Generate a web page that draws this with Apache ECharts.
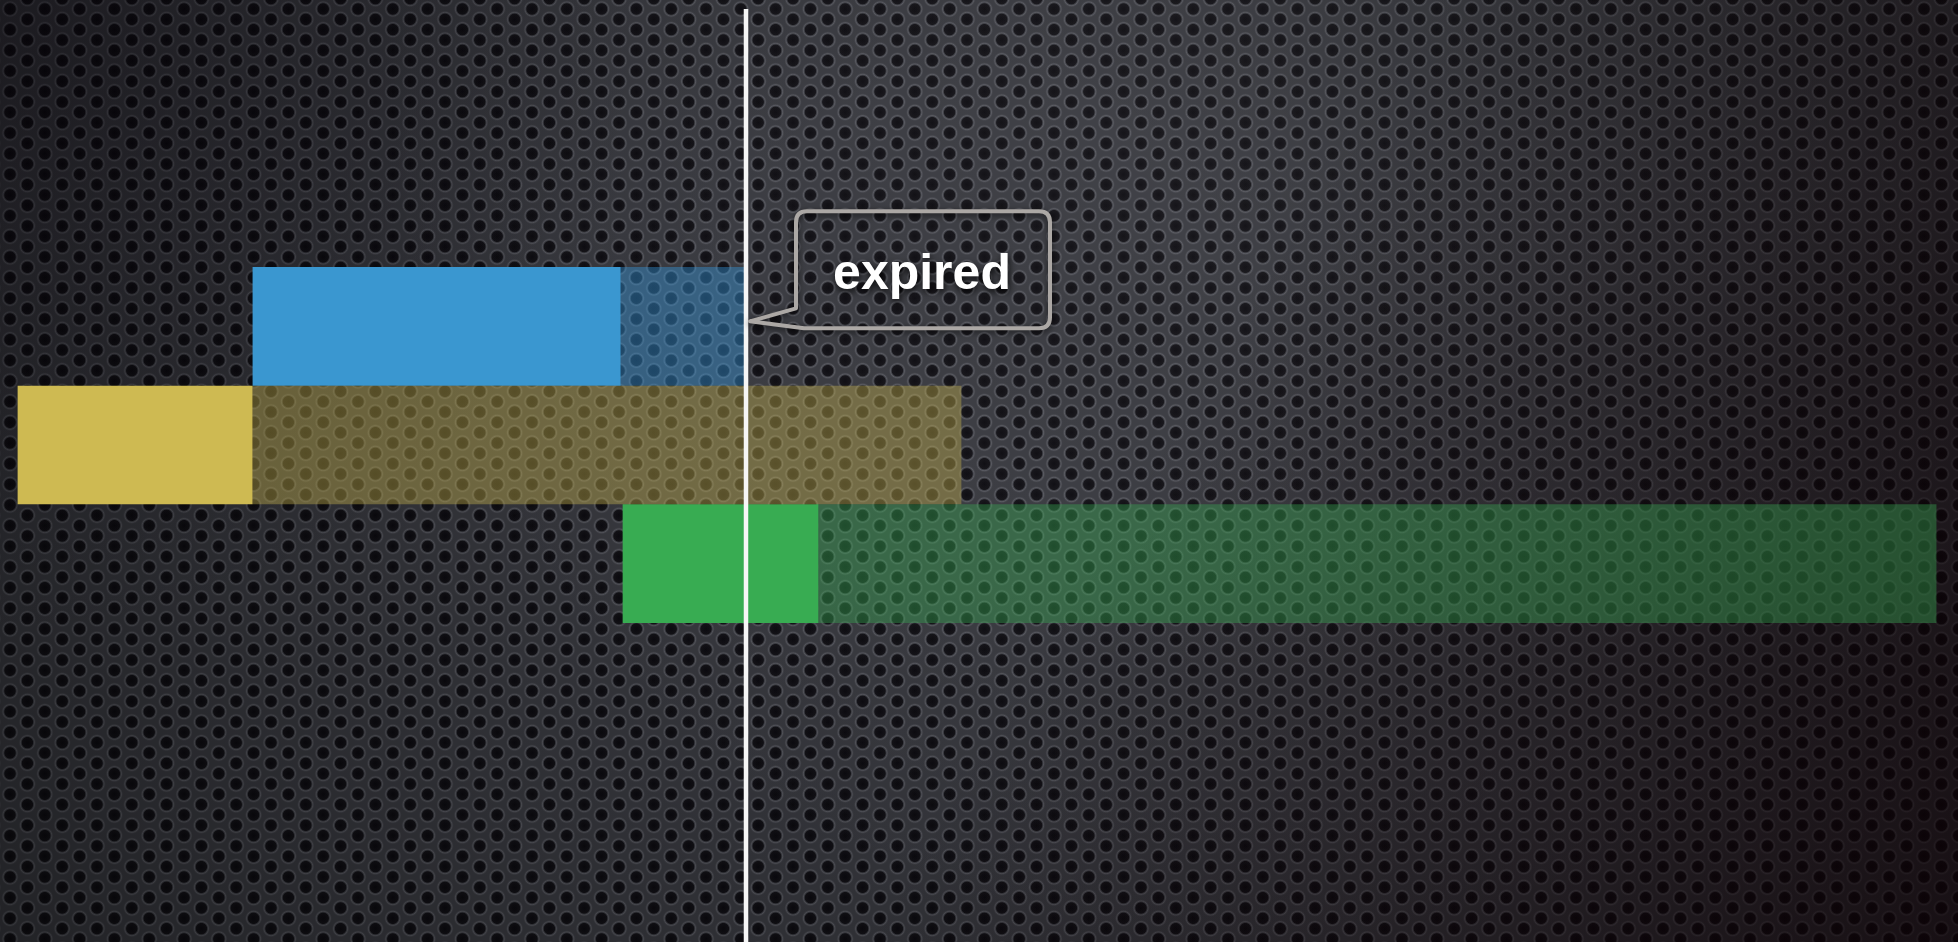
<!DOCTYPE html>
<html><head><meta charset="utf-8">
<script src="https://cdn.jsdelivr.net/npm/echarts@6/dist/echarts.min.js"></script>
<style>html,body{margin:0;padding:0;background:#2c2c31;overflow:hidden}#c{width:1958px;height:942px}</style>
</head><body><div id="c"></div>
<script>
// ---- data ----
const categories = ['Item 1', 'Item 2', 'Item 3'];
const startValues = [12.9, 0.9, 31.8];
const activeEndValues = [31.7, 12.9, 41.8];
const endValues = [38.0, 49.1, 98.9];
const nowValue = 38.1;
const calloutLabel = 'expired';

// ---- styles ----
const solidColors = ['rgb(58,151,208)', 'rgb(206,186,82)', 'rgb(56,172,82)'];
const dimColors = ['rgba(52,150,220,0.42)', 'rgba(200,180,78,0.40)', 'rgba(56,170,82,0.40)'];

const W = 1958, H = 942;
function makeBackground() {
  const cv = document.createElement('canvas'); cv.width = W; cv.height = H;
  const ctx = cv.getContext('2d');
  ctx.fillStyle = '#38393f'; ctx.fillRect(0, 0, W, H);
  const px = 34.8, py = 10.333, R0 = 9;
  for (let j = -1; j * py < H + py; j++) {
    const y = 9 + j * py;
    const off = (Math.abs(j) % 2) ? px / 2 : 0;
    for (let x = 10 + off - px; x < W + px; x += px) {
      const g = ctx.createRadialGradient(x, y, 0, x, y, R0);
      g.addColorStop(0, '#0b0a0f');
      g.addColorStop(0.58, '#121116');
      g.addColorStop(0.66, '#34353b');
      g.addColorStop(0.78, '#56575e');
      g.addColorStop(1, 'rgba(56,57,63,0)');
      ctx.fillStyle = g;
      ctx.beginPath(); ctx.arc(x, y, R0, 0, Math.PI * 2); ctx.fill();
    }
  }
  let g = ctx.createRadialGradient(1250, 80, 0, 1250, 80, 900);
  g.addColorStop(0, 'rgba(255,255,255,0.05)'); g.addColorStop(1, 'rgba(255,255,255,0)');
  ctx.fillStyle = g; ctx.fillRect(0, 0, W, H);
  g = ctx.createRadialGradient(W * 0.5, H * 0.35, 250, W * 0.5, H * 0.35, 1300);
  g.addColorStop(0, 'rgba(0,0,0,0)'); g.addColorStop(1, 'rgba(0,0,0,0.45)');
  ctx.fillStyle = g; ctx.fillRect(0, 0, W, H);
  g = ctx.createRadialGradient(0, 0, 0, 0, 0, 650);
  g.addColorStop(0, 'rgba(5,0,8,0.3)'); g.addColorStop(1, 'rgba(5,0,8,0)');
  ctx.fillStyle = g; ctx.fillRect(0, 0, W, H);
  g = ctx.createLinearGradient(1150, 450, 1958, 942);
  g.addColorStop(0, 'rgba(15,0,5,0)'); g.addColorStop(1, 'rgba(15,0,5,0.55)');
  ctx.fillStyle = g; ctx.fillRect(0, 0, W, H);
  return cv;
}

const activeLengths = activeEndValues.map((v, i) => ({
  value: +(v - startValues[i]).toFixed(2), itemStyle: { color: solidColors[i] }
}));
const expiredLengths = endValues.map((v, i) => ({
  value: +(v - activeEndValues[i]).toFixed(2), itemStyle: { color: dimColors[i] }
}));

function renderCallout(params, api) {
  const p = api.coord([api.value(0), api.value(1)]);
  const cx = p[0], cy = p[1];
  const L = cx + 50, R = cx + 304, T = cy - 115, B = cy + 2, r = 11;
  const tipX = cx + 4, tipY = cy - 5;
  const d = 'M ' + L + ' ' + (B - 20) + ' L ' + L + ' ' + (T + r) +
    ' Q ' + L + ' ' + T + ' ' + (L + r) + ' ' + T +
    ' L ' + (R - r) + ' ' + T + ' Q ' + R + ' ' + T + ' ' + R + ' ' + (T + r) +
    ' L ' + R + ' ' + (B - r) + ' Q ' + R + ' ' + B + ' ' + (R - r) + ' ' + B +
    ' L ' + (L + 8) + ' ' + B + ' L ' + tipX + ' ' + tipY + ' Z';
  return {
    type: 'group',
    children: [
      { type: 'path', shape: { pathData: d },
        style: { fill: 'none', stroke: '#aca8a5', lineWidth: 4, lineJoin: 'round',
                 shadowBlur: 6, shadowColor: 'rgba(0,0,0,0.6)', shadowOffsetY: 2 } },
      { type: 'text',
        style: { text: calloutLabel, x: (L + R) / 2 - 1, y: cy - 51, align: 'center', verticalAlign: 'middle',
                 fill: '#ffffff', font: 'bold 50px "Liberation Sans", Arial, sans-serif',
                 textShadowColor: 'rgba(0,0,0,0.85)', textShadowBlur: 7, textShadowOffsetX: 1, textShadowOffsetY: 3 } }
    ]
  };
}

const chart = echarts.init(document.getElementById('c'), null, { renderer: 'canvas' });
chart.setOption({
  backgroundColor: { image: makeBackground(), repeat: 'no-repeat' },
  animation: false,
  grid: [
    { left: 0, right: 0, top: 267, height: 356 },
    { left: 0, right: 0, top: 9, bottom: 0 }
  ],
  xAxis: [
    { type: 'value', gridIndex: 0, min: 0, max: 100, show: false },
    { type: 'value', gridIndex: 1, min: 0, max: 100, show: false }
  ],
  yAxis: [
    { type: 'category', gridIndex: 0, data: categories, inverse: true, show: false },
    { type: 'value', gridIndex: 1, min: 0, max: 1, show: false }
  ],
  series: [
    { type: 'bar', stack: 't', data: startValues, barWidth: '100%', barCategoryGap: '0%',
      itemStyle: { color: 'rgba(0,0,0,0)' }, silent: true },
    { type: 'bar', stack: 't', data: activeLengths, barWidth: '100%', barCategoryGap: '0%' },
    { type: 'bar', stack: 't', data: expiredLengths, barWidth: '100%', barCategoryGap: '0%' },
    { type: 'line', xAxisIndex: 1, yAxisIndex: 1, data: [[nowValue, 0], [nowValue, 1]],
      symbol: 'none', lineStyle: { color: '#f6f6f6', width: 4.5 }, z: 5, silent: true },
    { type: 'custom', xAxisIndex: 0, yAxisIndex: 0, data: [[nowValue, 0]],
      renderItem: renderCallout, z: 6, silent: true }
  ]
});
</script></body></html>
